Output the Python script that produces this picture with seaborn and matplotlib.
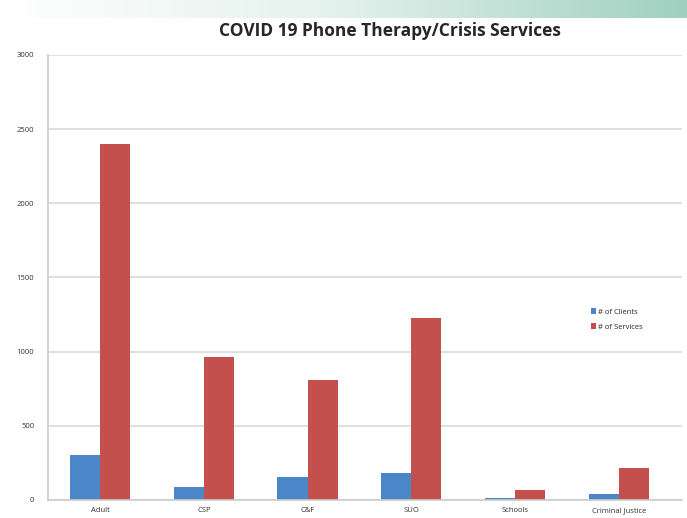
import numpy as np
import pandas as pd
import matplotlib.pyplot as plt
import seaborn as sns
from matplotlib.colors import LinearSegmentedColormap

categories = ["Adult", "CSP", "C&F", "SUO", "Schools", "Criminal Justice"]
clients = [305, 90, 152, 180, 15, 40]
services = [2400, 960, 805, 1225, 65, 215]
series_names = ["# of Clients", "# of Services"]

df = pd.DataFrame({
    "category": categories * 2,
    "series": [series_names[0]] * len(categories) + [series_names[1]] * len(categories),
    "value": clients + services,
})

sns.set_style("white")
plt.rcParams["font.family"] = ["Open Sans", "DejaVu Sans"]

fig = plt.figure(figsize=(6.87, 5.18), dpi=100)

# slide background strip at the top
bg = fig.add_axes([0, 0.965, 1, 0.035])
grad = np.linspace(0, 1, 256).reshape(1, -1)
cmap = LinearSegmentedColormap.from_list("strip", ["#ffffff", "#e3f1ec", "#9fd0c0"])
bg.imshow(grad, aspect="auto", cmap=cmap)
bg.axis("off")

ax = fig.add_axes([0.070, 0.035, 0.923, 0.859])
sns.barplot(data=df, x="category", y="value", hue="series",
            palette=["#4A86C8", "#C4504E"], width=0.58, saturation=1,
            linewidth=0, ax=ax, legend=True)

ax.set_ylim(0, 3000)
ax.set_xlim(-0.5, 5.61)
ax.set_yticks(range(0, 3001, 500))
ax.yaxis.grid(True, color="#d9d9d9", linewidth=1.2)
ax.set_axisbelow(True)
ax.set_xlabel("")
ax.set_ylabel("")
for s in ["top", "right"]:
    ax.spines[s].set_visible(False)
for s in ["left", "bottom"]:
    ax.spines[s].set_color("#cccccc")
    ax.spines[s].set_linewidth(1.2)
ax.tick_params(axis="y", labelsize=5.5, colors="#333333", length=0, pad=10)
ax.tick_params(axis="x", labelsize=5.5, colors="#333333", length=0, pad=5)

leg = ax.legend(loc="center left", bbox_to_anchor=(0.845, 0.405), frameon=False,
                fontsize=5.5, handlelength=0.7, handleheight=0.7,
                handletextpad=0.3, labelspacing=1.0)

fig.text(0.568, 0.94, "COVID 19 Phone Therapy/Crisis Services", ha="center",
         va="center", fontsize=12.5, fontweight="bold", color="#262626")

fig.savefig("out.png", dpi=100)
